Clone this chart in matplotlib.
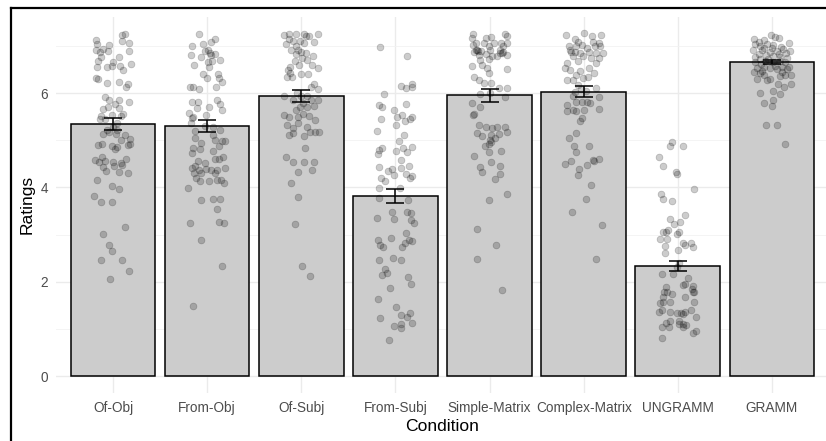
import matplotlib
matplotlib.use('Agg')
import matplotlib.pyplot as plt
from matplotlib.lines import Line2D
import numpy as np

plt.rcParams['font.family'] = ['Liberation Sans', 'DejaVu Sans']

# Conditions, bar means and standard errors
conditions = ['Of-Obj', 'From-Obj', 'Of-Subj', 'From-Subj', 'Simple-Matrix',
              'Complex-Matrix', 'UNGRAMM', 'GRAMM']
means = [5.35, 5.30, 5.94, 3.82, 5.95, 6.03, 2.33, 6.66]
ses = [0.13, 0.12, 0.12, 0.15, 0.13, 0.12, 0.11, 0.05]

# Individual ratings (value) with their horizontal jitter (dx, in category units)
of_obj_y = [7.25, 7.23, 7.13, 7.11, 7.06, 7.04, 7.02, 6.93, 6.92, 6.90, 6.88, 6.77, 6.89, 6.76,
            6.67, 6.66, 6.61, 6.56, 6.56, 6.57, 6.57, 6.49, 6.31, 6.30, 6.22, 6.24, 6.19, 6.12,
            5.91, 5.85, 5.85, 5.77, 5.71, 5.66, 5.80, 5.69, 5.52, 5.54, 5.52, 5.55, 5.45, 5.44,
            5.36, 5.29, 5.22, 5.18, 5.22, 5.13, 5.13, 5.12, 5.01, 5.03, 4.91, 4.89, 4.88, 4.85,
            4.89, 4.82, 4.91, 4.65, 4.57, 4.53, 4.55, 4.53, 4.51, 4.44, 4.46, 4.60, 4.47, 4.35,
            4.33, 4.31, 4.15, 4.03, 3.96, 3.82, 3.68, 3.70, 3.15, 3.02, 2.78, 2.66, 2.47, 2.46,
            2.06, 2.22]
of_obj_dx = [0.13, 0.10, -0.18, 0.10, 0.17, -0.17, -0.04, -0.11, -0.18, -0.05, -0.14, 0.06, 0.17, -0.13,
             -0.16, 0.00, 0.19, -0.17, -0.06, -0.01, 0.07, 0.11, -0.18, -0.16, -0.06, 0.06, 0.16, 0.14,
             -0.08, -0.04, 0.06, 0.02, -0.05, -0.11, 0.17, 0.06, -0.13, -0.01, 0.08, 0.11, -0.08, -0.14,
             0.04, 0.00, 0.04, -0.04, -0.06, -0.11, 0.03, 0.13, 0.08, 0.18, -0.12, -0.16, -0.01, 0.04,
             0.16, 0.02, 0.18, -0.12, -0.19, -0.15, -0.09, 0.00, 0.09, -0.11, 0.01, 0.14, 0.10, -0.07,
             0.06, 0.16, -0.17, -0.01, 0.06, -0.20, -0.13, -0.01, 0.13, -0.11, -0.04, -0.01, -0.13, 0.10,
             -0.03, 0.17]

from_obj_y = [7.25, 7.00, 7.04, 7.09, 7.14, 6.92, 6.85, 6.83, 6.81, 6.90, 6.81, 6.77, 6.67, 6.65,
              6.69, 6.60, 6.41, 6.56, 6.41, 6.24, 6.31, 6.12, 6.31, 6.12, 6.12, 6.08, 5.82, 5.80,
              5.77, 5.64, 5.85, 5.71, 5.58, 5.54, 5.68, 5.47, 5.50, 5.30, 5.27, 5.22, 5.10, 5.20,
              5.36, 5.04, 4.95, 4.98, 4.99, 5.01, 4.87, 4.83, 4.73, 4.81, 4.78, 4.61, 4.65, 4.61,
              4.51, 4.55, 4.46, 4.42, 4.30, 4.37, 4.40, 4.37, 4.37, 4.42, 4.30, 4.30, 4.16, 4.19,
              4.14, 4.14, 4.16, 4.10, 3.98, 3.73, 3.76, 3.75, 3.55, 3.25, 3.27, 3.24, 2.88, 2.34,
              1.48]
from_obj_dx = [-0.09, -0.16, -0.04, 0.04, 0.08, 0.01, 0.03, 0.08, 0.04, -0.02, -0.17, -0.07, 0.05, 0.01,
               0.14, -0.14, -0.04, 0.02, 0.12, 0.16, 0.13, 0.09, 0.00, -0.15, -0.18, -0.09, -0.10, -0.16,
               0.14, 0.16, 0.11, 0.02, -0.19, -0.01, -0.11, -0.16, -0.15, -0.02, 0.06, 0.14, 0.06, -0.13,
               -0.17, -0.13, -0.06, 0.16, 0.19, 0.08, 0.13, -0.15, -0.16, -0.08, 0.06, 0.13, 0.17, 0.08,
               -0.02, -0.10, -0.13, -0.16, -0.14, -0.09, -0.01, 0.04, 0.11, 0.19, -0.06, 0.08, 0.15, -0.12,
               -0.08, 0.02, 0.11, 0.18, -0.20, -0.06, 0.06, 0.14, 0.10, -0.18, 0.13, 0.18, -0.06, 0.16,
               -0.15]

of_subj_y = [7.23, 7.25, 7.25, 7.25, 7.20, 7.25, 7.14, 7.10, 7.11, 7.20, 7.09, 7.04, 7.07, 6.99,
             6.92, 6.92, 6.88, 6.85, 6.83, 6.74, 6.70, 6.79, 6.68, 6.56, 6.60, 6.60, 6.53, 6.48,
             6.42, 6.34, 6.34, 6.41, 6.41, 6.20, 6.09, 6.12, 5.93, 6.00, 5.94, 5.93, 5.85, 5.85,
             5.85, 5.78, 5.71, 5.64, 5.71, 5.73, 5.54, 5.49, 5.50, 5.56, 5.52, 5.42, 5.32, 5.26,
             5.36, 5.27, 5.15, 5.11, 5.17, 5.17, 5.17, 5.09, 4.84, 4.65, 4.53, 4.53, 4.53, 4.33,
             4.37, 4.09, 3.79, 3.22, 2.34, 2.12]
of_subj_dx = [-0.18, -0.13, -0.06, 0.03, 0.05, 0.18, -0.13, -0.09, -0.01, 0.08, 0.14, -0.16, 0.03, -0.06,
              -0.11, -0.04, 0.00, 0.05, -0.06, 0.01, 0.06, 0.12, -0.07, -0.12, -0.02, 0.11, 0.18, -0.14,
              -0.12, -0.15, -0.10, 0.00, 0.07, 0.14, 0.18, 0.10, 0.06, -0.05, -0.18, 0.00, -0.09, 0.10,
              0.18, 0.02, -0.01, -0.06, 0.06, 0.13, -0.18, -0.13, -0.04, 0.02, 0.08, 0.15, -0.15, -0.09,
              -0.04, 0.06, -0.09, -0.13, 0.09, 0.15, 0.19, 0.03, 0.04, -0.16, -0.09, 0.03, 0.13, -0.04,
              0.11, -0.11, -0.04, -0.07, 0.01, 0.09]

from_subj_y = [6.97, 6.78, 6.15, 6.10, 6.20, 6.13, 5.99, 5.74, 5.71, 5.77, 5.65, 5.46, 5.50, 5.53,
               5.41, 5.46, 5.49, 5.32, 5.19, 5.11, 4.98, 4.83, 4.79, 4.71, 4.78, 4.84, 4.74, 4.85,
               4.58, 4.44, 4.34, 4.40, 4.27, 4.41, 4.46, 4.29, 4.20, 4.25, 4.19, 4.14, 3.99, 3.98,
               3.77, 3.74, 3.48, 3.47, 3.46, 3.35, 3.32, 3.30, 3.24, 2.88, 2.77, 2.73, 2.92, 3.04,
               2.74, 2.89, 2.87, 2.81, 2.51, 2.46, 2.46, 2.27, 2.14, 2.18, 2.09, 1.96, 1.86, 1.64,
               1.46, 1.22, 1.29, 1.25, 1.33, 1.13, 1.06, 1.11, 1.01, 0.76]
from_subj_dx = [-0.16, 0.12, 0.06, 0.11, 0.18, 0.18, -0.12, -0.17, -0.14, 0.11, -0.01, -0.15, 0.02, 0.07,
                0.10, 0.15, 0.18, 0.01, -0.20, 0.09, 0.04, -0.14, -0.17, -0.18, 0.01, 0.08, 0.12, 0.18,
                0.06, -0.17, -0.08, -0.04, -0.01, 0.06, 0.14, 0.11, 0.16, 0.18, -0.15, -0.11, -0.17, 0.05,
                -0.17, 0.13, -0.04, 0.12, 0.17, -0.20, -0.02, 0.17, 0.20, -0.18, -0.16, -0.13, -0.05, 0.11,
                0.07, 0.14, 0.18, 0.10, -0.03, -0.17, 0.06, -0.11, -0.14, -0.09, 0.13, 0.17, -0.06, -0.18,
                0.01, -0.16, 0.06, 0.12, 0.15, 0.18, -0.01, 0.06, 0.06, -0.07]

simple_y = [7.25, 7.17, 7.17, 7.18, 7.25, 7.20, 7.07, 7.02, 7.06, 7.07, 6.92, 6.90, 6.90, 6.92,
            6.92, 6.88, 6.83, 6.85, 6.81, 6.71, 6.72, 6.58, 6.60, 6.53, 6.51, 6.42, 6.34, 6.27,
            6.22, 6.21, 6.10, 6.10, 5.98, 6.00, 5.91, 5.79, 5.71, 5.54, 5.56, 5.32, 5.29, 5.25,
            5.29, 5.29, 5.18, 5.15, 5.09, 5.01, 5.11, 5.13, 5.04, 4.97, 4.91, 4.88, 4.67, 4.76,
            4.77, 4.44, 4.33, 4.45, 4.28, 4.53, 4.17, 3.87, 3.73, 3.11, 2.78, 2.49, 1.83,
            6.92, 6.85, 6.88, 6.99, 6.81, 6.78, 6.99, 7.07, 7.06, 6.78]
simple_dx = [-0.18, -0.19, -0.04, 0.02, 0.16, 0.18, -0.14, -0.18, 0.12, 0.18, -0.14, -0.12, -0.09, 0.00,
             0.11, 0.14, -0.04, 0.13, 0.19, -0.10, -0.01, -0.19, -0.08, -0.03, 0.19, -0.01, -0.16, -0.11,
             -0.06, 0.01, 0.10, 0.18, -0.10, 0.00, 0.16, -0.19, -0.10, -0.18, -0.16, -0.11, -0.04, 0.03,
             0.08, 0.16, 0.19, -0.13, -0.08, 0.00, 0.02, 0.10, 0.06, 0.01, -0.01, -0.05, -0.16, -0.01,
             0.12, -0.10, -0.08, 0.11, 0.11, 0.01, 0.06, 0.18, -0.01, -0.13, 0.07, -0.13, 0.13,
             -0.13, 0.11, -0.16, 0.14, -0.11, 0.08, -0.01, -0.06, 0.05, 0.03]

complex_y = [7.24, 7.27, 7.20, 7.24, 7.14, 7.09, 7.06, 7.00, 7.02, 6.99, 6.88, 6.88, 6.85, 6.86,
             6.85, 6.85, 6.78, 6.74, 6.74, 6.68, 6.63, 6.63, 6.53, 6.49, 6.46, 6.53, 6.42, 6.39,
             6.28, 6.28, 6.32, 6.35, 6.17, 6.08, 6.10, 6.05, 6.03, 5.93, 5.91, 5.82, 5.80, 5.80,
             5.75, 5.79, 5.66, 5.64, 5.61, 5.61, 5.64, 5.47, 5.40, 5.04, 5.15, 4.88, 4.87, 4.76,
             4.55, 4.50, 4.48, 4.40, 4.26, 4.58, 4.60, 4.55, 4.04, 3.75, 3.47, 3.20, 2.49,
             6.92, 6.95, 6.99, 6.99, 7.09, 6.78]
complex_dx = [-0.19, 0.00, 0.09, 0.18, -0.09, -0.06, 0.16, -0.16, -0.02, 0.12, -0.09, -0.13, -0.04, 0.06,
              0.13, 0.20, -0.01, 0.08, 0.16, -0.06, -0.18, 0.13, -0.20, -0.15, -0.04, 0.06, 0.11, -0.08,
              -0.18, -0.11, -0.01, 0.05, -0.06, -0.03, 0.13, 0.02, -0.09, -0.11, 0.16, -0.08, -0.02, 0.03,
              -0.18, 0.07, 0.16, 0.00, -0.08, -0.18, -0.11, -0.02, -0.04, -0.16, -0.08, 0.06, -0.10, -0.08,
              -0.13, -0.20, 0.04, -0.05, -0.06, 0.10, 0.16, 0.11, 0.08, 0.02, -0.12, 0.19, 0.13,
              -0.15, 0.03, -0.08, 0.17, 0.10, -0.11]

ungramm_y = [4.97, 4.88, 4.88, 4.64, 4.46, 4.32, 4.28, 3.97, 3.85, 3.75, 3.72, 3.41, 3.34, 3.27,
             3.22, 3.06, 3.06, 3.06, 3.02, 2.90, 2.90, 2.81, 2.78, 2.74, 2.76, 2.68, 2.81, 2.60,
             2.39, 2.32, 2.08, 2.16, 2.16, 1.95, 1.91, 1.79, 1.88, 1.79, 1.74, 1.68, 1.55, 1.57,
             1.68, 1.57, 1.40, 1.36, 1.34, 1.34, 1.36, 1.36, 1.41, 1.25, 1.17, 1.17, 1.11, 1.08,
             1.13, 1.03, 1.03, 1.03, 0.91, 0.96, 0.80,
             1.79, 1.32, 1.79, 1.57, 1.11, 1.93, 3.09, 1.84]
ungramm_dx = [-0.06, -0.08, 0.06, -0.20, -0.16, -0.02, -0.01, 0.17, -0.18, -0.16, -0.06, 0.08, -0.08, 0.02,
              -0.04, -0.16, -0.13, 0.01, -0.01, -0.19, -0.11, 0.06, 0.08, 0.16, -0.14, 0.00, 0.14, -0.14,
              0.01, -0.01, 0.11, -0.17, -0.05, 0.08, 0.16, 0.17, -0.13, -0.15, -0.06, -0.16, -0.19, -0.08,
              0.08, 0.17, -0.17, -0.20, -0.01, 0.03, 0.08, -0.08, 0.14, 0.19, -0.08, 0.01, 0.06, 0.09,
              -0.13, -0.17, -0.09, 0.05, 0.16, 0.19, -0.17,
              -0.12, 0.06, 0.16, -0.16, 0.01, 0.05, -0.10, 0.15]

gramm_y = [7.14, 7.12, 7.23, 7.19, 7.16, 7.03, 7.00, 7.05, 7.02, 6.98, 7.07, 6.91, 6.91, 6.88,
           6.89, 6.93, 6.89, 6.77, 6.73, 6.80, 6.79, 6.77, 6.75, 6.65, 6.61, 6.68, 6.65, 6.68,
           6.65, 6.54, 6.47, 6.54, 6.51, 6.55, 6.56, 6.44, 6.42, 6.37, 6.39, 6.38, 6.30, 6.27,
           6.30, 6.20, 6.13, 6.20, 6.04, 5.98, 6.01, 5.79, 5.85, 5.72, 5.33, 5.33, 4.93,
           7.09, 6.96, 6.95, 6.84, 6.72, 6.55, 6.58, 6.45, 6.82, 6.82, 6.38, 6.51]
gramm_dx = [-0.19, -0.09, -0.01, 0.03, 0.07, -0.18, -0.13, -0.05, 0.01, 0.10, 0.18, -0.20, -0.11, -0.02,
            0.05, 0.12, 0.19, -0.18, -0.13, -0.06, 0.01, 0.08, 0.16, -0.18, -0.12, -0.07, 0.01, 0.08,
            0.14, -0.16, -0.11, -0.02, 0.05, 0.11, 0.18, -0.19, -0.13, 0.08, 0.14, 0.20, -0.16, -0.05,
            -0.02, 0.06, 0.13, 0.20, 0.01, 0.08, -0.13, -0.09, 0.01, 0.00, -0.06, 0.05, 0.14,
            -0.14, -0.08, 0.00, 0.15, -0.04, -0.09, 0.03, 0.11, -0.14, 0.07, -0.08, 0.16]

point_sets = [(of_obj_dx, of_obj_y), (from_obj_dx, from_obj_y), (of_subj_dx, of_subj_y),
              (from_subj_dx, from_subj_y), (simple_dx, simple_y), (complex_dx, complex_y),
              (ungramm_dx, ungramm_y), (gramm_dx, gramm_y)]

fig = plt.figure(figsize=(8.26, 4.41), dpi=100)
ax = fig.add_axes([0.0684, 0.1088, 0.9346, 0.8535])

x = np.arange(1, len(conditions) + 1)
ax.bar(x, means, width=0.9, color='#CCCCCC', edgecolor='black', linewidth=1.1, zorder=2)

for xi, (dx, vals) in zip(x, point_sets):
    ax.scatter(xi + np.array(dx), vals, s=24, facecolor=(0, 0, 0, 0.2),
               edgecolor=(0, 0, 0, 0.22), linewidth=0.5, zorder=3)

ax.errorbar(x, means, yerr=ses, fmt='none', ecolor='black', elinewidth=1.1,
            capsize=6.7, capthick=1.1, zorder=4)

ax.set_xlim(0.4, 8.6)
ax.set_ylim(-0.36, 7.62)
ax.set_xticks(x)
ax.set_xticklabels(conditions)
ax.set_yticks([0, 2, 4, 6])
ax.set_yticks([1, 3, 5, 7], minor=True)

ax.grid(True, which='major', axis='both', color='#EBEBEB', linewidth=1.0, zorder=0)
ax.grid(True, which='minor', axis='y', color='#F2F2F2', linewidth=0.6, zorder=0)
ax.set_axisbelow(True)
for sp in ax.spines.values():
    sp.set_visible(False)
ax.tick_params(axis='both', which='both', length=0, labelsize=9.8, colors='#4D4D4D')
ax.tick_params(axis='x', pad=5.5)
ax.tick_params(axis='y', pad=6)

ax.set_xlabel('Condition', fontsize=12.6, color='black', labelpad=3)
ax.set_ylabel('Ratings', fontsize=12.6, color='black', labelpad=4)

# Black frame along the top and left edges
fig.add_artist(Line2D([10.5 / 826, 1.0], [1 - 7.5 / 441, 1 - 7.5 / 441],
                      transform=fig.transFigure, color='black', linewidth=1.6))
fig.add_artist(Line2D([10.5 / 826, 10.5 / 826], [0.0, 1 - 7.5 / 441],
                      transform=fig.transFigure, color='black', linewidth=1.6))

fig.savefig('out.png', dpi=100)
